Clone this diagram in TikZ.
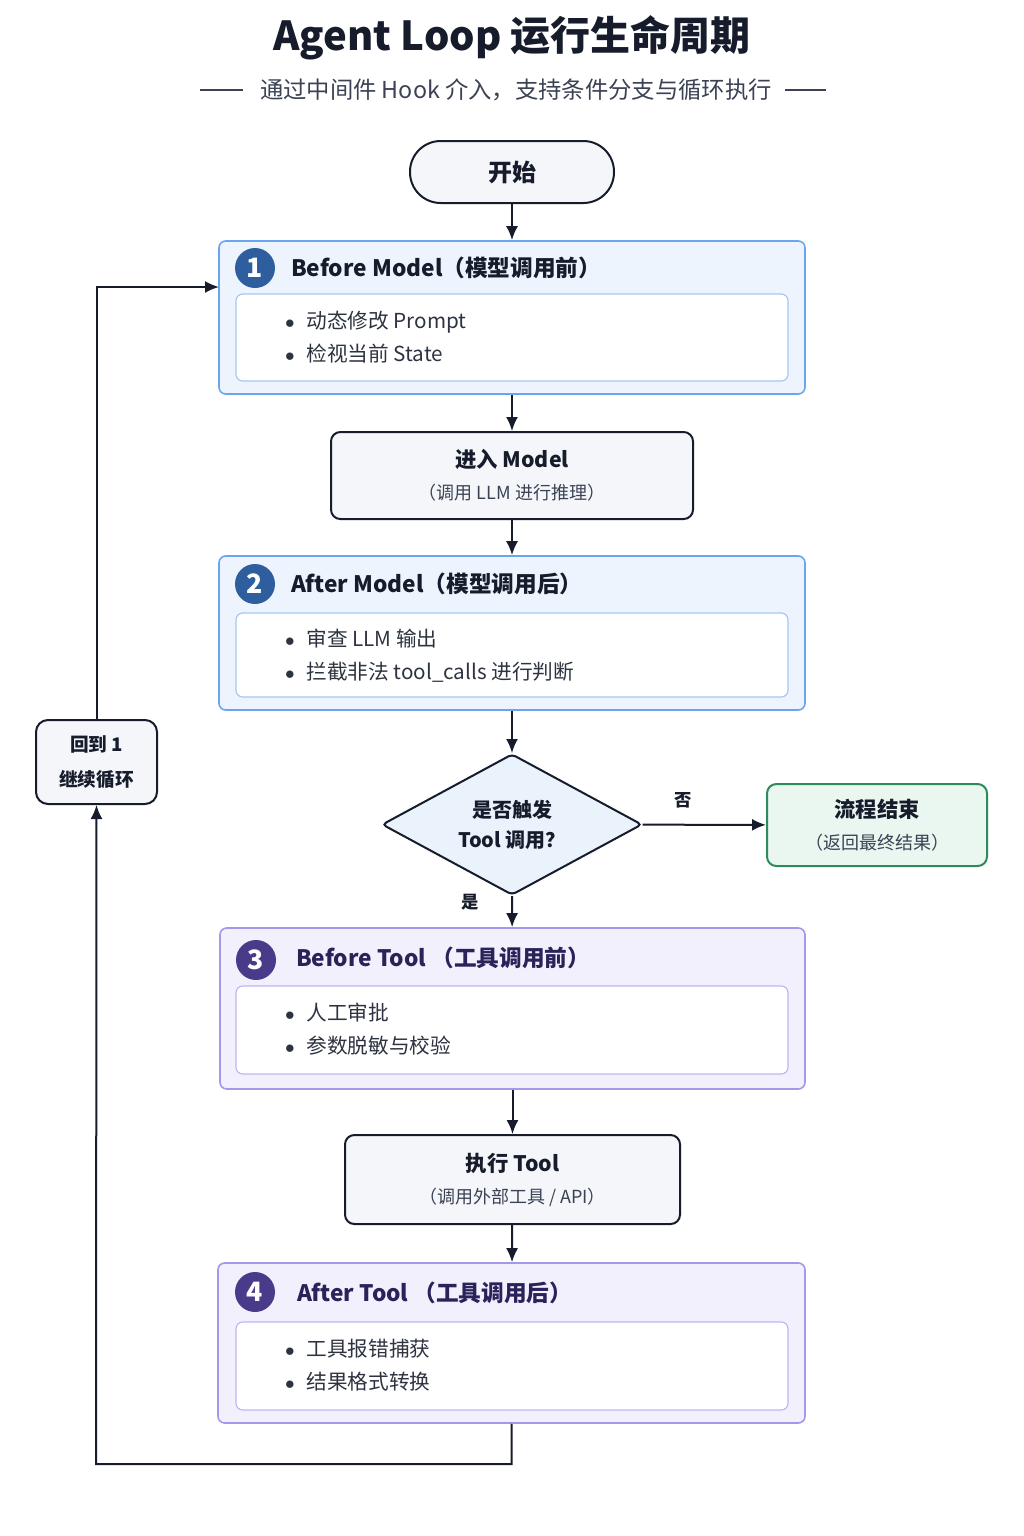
\documentclass[tikz,border=0pt]{standalone}
\usepackage{fontspec}
\setmainfont{Noto Sans CJK SC}
\usepackage{xcolor}
\usepackage{tikz}
\usetikzlibrary{arrows.meta,positioning,calc,shapes.geometric,fit}
\definecolor{inkNavy}{HTML}{161C2B}
\definecolor{subInk}{HTML}{3B4254}
\definecolor{modelFrame}{HTML}{6BA5EE}
\definecolor{modelBack}{HTML}{EDF4FE}
\definecolor{modelInner}{HTML}{A3C8F6}
\definecolor{modelBadge}{HTML}{2F5E9E}
\definecolor{toolFrame}{HTML}{A497EC}
\definecolor{toolBack}{HTML}{F2F0FC}
\definecolor{toolInner}{HTML}{C0B6F4}
\definecolor{toolBadge}{HTML}{4A3A8A}
\definecolor{toolInk}{HTML}{29235A}
\definecolor{stepBack}{HTML}{F4F6FA}
\definecolor{endFrame}{HTML}{2E8A5A}
\definecolor{endBack}{HTML}{EAF6F0}
\definecolor{askBack}{HTML}{EAF2FC}
\newcommand{\bul}{\makebox[16pt][l]{$\bullet$}}

\begin{document}
\begin{tikzpicture}[x=0.75pt,y=-0.75pt,>={Latex[length=10.5pt,width=9pt]},line width=1.5pt,draw=inkNavy]
  \tikzstyle{hookBox}=[draw=modelFrame,fill=modelBack,rounded corners=5pt,line width=1.2pt,inner sep=0pt]
  \tikzstyle{innerBox}=[draw=modelInner,fill=white,rounded corners=5pt,line width=0.9pt,inner sep=0pt]
  \tikzstyle{badge}=[circle,fill=modelBadge,text=white,minimum size=30pt,inner sep=0pt,font=\fontsize{20}{20}\selectfont\bfseries]
  \tikzstyle{hookHead}=[anchor=west,text=inkNavy,inner sep=0pt,font=\fontsize{17}{20}\selectfont\bfseries]
  \tikzstyle{bulletList}=[anchor=west,align=left,text=inkNavy!90,inner sep=0pt,font=\fontsize{15.5}{24.75}\selectfont]
  \tikzstyle{stepBox}=[draw=inkNavy,fill=stepBack,rounded corners=7pt,align=center,text=inkNavy,font=\fontsize{16}{24}\selectfont\bfseries]
  \useasboundingbox[fill=white] (0,0) rectangle (1024,1536);

  % title
  \node[text=inkNavy,font=\fontsize{30}{34}\selectfont\bfseries] (title) at (512,38) {Agent Loop 运行生命周期};
  \node[text=subInk,font=\fontsize{17.5}{20}\selectfont] (subTitle) at (516,90) {通过中间件 Hook 介入，支持条件分支与循环执行};
  \draw[subInk,line width=0.9pt] (200,90) -- (243,90);
  \draw[subInk,line width=0.9pt] (785,90) -- (826,90);

  % start
  \node[stepBox,rounded corners=23pt,minimum width=153pt,minimum height=46.5pt,font=\fontsize{18}{20}\selectfont\bfseries] (start) at (512,172) {开始};

  % hook 1
  \node[hookBox,fit={(219,241) (805,394)}] (beforeModel) {};
  \node[innerBox,fit={(236,294) (788,381)}] (beforeModelIn) {};
  \node[badge] (badgeOne) at (255,268) {1};
  \node[hookHead] (beforeModelHead) at (290,268) {Before Model（模型调用前）};
  \node[bulletList] (beforeModelList) at (284,337.5) {\bul 动态修改 Prompt\\\bul 检视当前 State};

  % model call
  \node[stepBox,minimum width=271.5pt,minimum height=65.25pt] (callModel) at (512,475.5) {进入 Model\\{\fontsize{13.5}{16}\selectfont\mdseries\color{subInk}（调用 LLM 进行推理）}};

  % hook 2
  \node[hookBox,fit={(219,556) (805,710)}] (afterModel) {};
  \node[innerBox,fit={(236,613) (788,697)}] (afterModelIn) {};
  \node[badge] (badgeTwo) at (255,584) {2};
  \node[hookHead] (afterModelHead) at (290,584) {After Model（模型调用后）};
  \node[bulletList] (afterModelList) at (284,655.5) {\bul 审查 LLM 输出\\\bul 拦截非法 tool\_calls 进行判断};

  % decision
  \node[diamond,aspect=1.85,draw=inkNavy,fill=askBack,rounded corners=3pt,minimum width=195pt,minimum height=105.75pt,inner sep=0pt,align=center,text=inkNavy,font=\fontsize{15}{22.5}\selectfont\bfseries] (askTool) at (512,824.5) {是否触发\\Tool 调用？};
  \node[stepBox,draw=endFrame,fill=endBack,minimum width=165pt,minimum height=61.5pt] (finish) at (877,825) {流程结束\\{\fontsize{13.5}{16}\selectfont\mdseries\color{subInk}（返回最终结果）}};

  % hook 3
  \node[hookBox,draw=toolFrame,fill=toolBack,fit={(220,928) (805,1089)}] (beforeTool) {};
  \node[innerBox,draw=toolInner,fit={(236,986) (788,1074)}] (beforeToolIn) {};
  \node[badge,fill=toolBadge] (badgeThree) at (256,960) {3};
  \node[hookHead,text=toolInk] (beforeToolHead) at (295,958) {Before Tool （工具调用前）};
  \node[bulletList] (beforeToolList) at (284,1029.5) {\bul 人工审批\\\bul 参数脱敏与校验};

  % tool call
  \node[stepBox,minimum width=251.25pt,minimum height=66.75pt] (callTool) at (512.5,1179.5) {执行 Tool\\{\fontsize{13.5}{16}\selectfont\mdseries\color{subInk}（调用外部工具 / API）}};

  % hook 4
  \node[hookBox,draw=toolFrame,fill=toolBack,fit={(218,1263) (805,1423)}] (afterTool) {};
  \node[innerBox,draw=toolInner,fit={(236,1322) (788,1410)}] (afterToolIn) {};
  \node[badge,fill=toolBadge] (badgeFour) at (255,1292) {4};
  \node[hookHead,text=toolInk] (afterToolHead) at (296,1293) {After Tool （工具调用后）};
  \node[bulletList] (afterToolList) at (284,1365.5) {\bul 工具报错捕获\\\bul 结果格式转换};

  % loop back
  \node[stepBox,rounded corners=9pt,minimum width=90.75pt,minimum height=63pt,font=\fontsize{14}{26}\selectfont\bfseries] (loopBack) at (96.5,762) {回到 1\\继续循环};
  \coordinate (loopLow) at (96,1464);
  \coordinate (loopIn) at (219,287);

  \draw[->] (start) -- (beforeModel);
  \draw[->] (beforeModel) -- (callModel);
  \draw[->] (callModel) -- (afterModel);
  \draw[->] (afterModel) -- (askTool);
  \draw[->] (askTool) -- node[pos=0.33,above=12pt,inner sep=0pt,text=inkNavy,font=\fontsize{13}{15}\selectfont\bfseries] {否} (finish);
  \draw[->] (askTool.south) -- node[pos=0.2,left=24pt,inner sep=0pt,text=inkNavy,font=\fontsize{13}{15}\selectfont\bfseries] {是} (beforeTool);
  \draw[->] (beforeTool) -- (callTool);
  \draw[->] (callTool) -- (afterTool);
  \draw[->] (afterTool.south) |- (loopLow) -- (loopBack.south);
  \draw[->] (loopBack.north) |- (loopIn);
\end{tikzpicture}
\end{document}
